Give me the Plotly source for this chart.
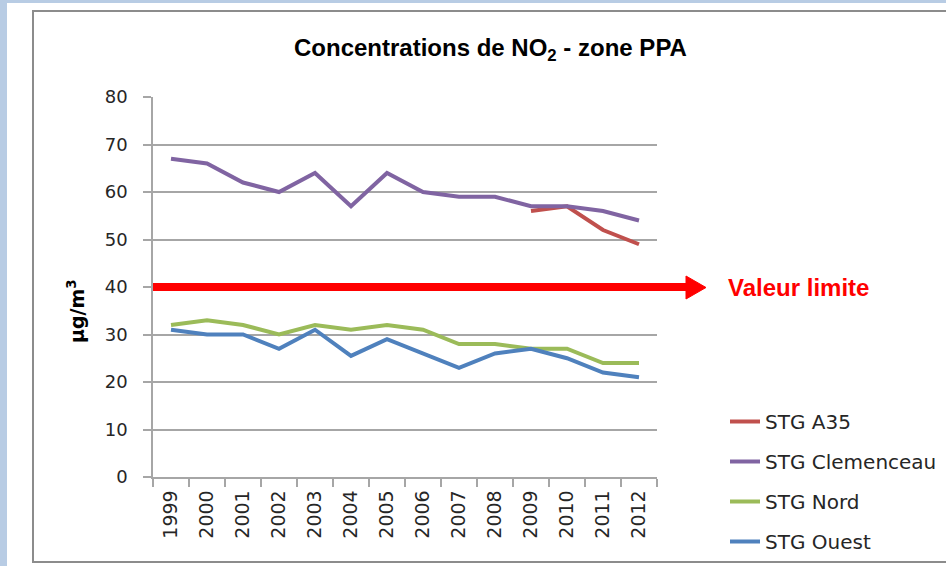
import plotly.graph_objects as go

years = ["1999", "2000", "2001", "2002", "2003", "2004", "2005",
         "2006", "2007", "2008", "2009", "2010", "2011", "2012"]
stg_a35 = [None, None, None, None, None, None, None,
           None, None, None, 56, 57, 52, 49]
stg_clemenceau = [67, 66, 62, 60, 64, 57, 64, 60, 59, 59, 57, 57, 56, 54]
stg_nord = [32, 33, 32, 30, 32, 31, 32, 31, 28, 28, 27, 27, 24, 24]
stg_ouest = [31, 30, 30, 27, 31, 25.5, 29, 26, 23, 26, 27, 25, 22, 21]
valeur_limite = 40
y_ticks = [0, 10, 20, 30, 40, 50, 60, 70, 80]

W, H = 946, 566
L, R, T, B = 153, 657, 97, 477


def px_x(px):
    return (px - L) / (R - L)


def px_y(py):
    return (B - py) / (B - T)


fig = go.Figure()
series = [
    ("STG A35", stg_a35, "#c0504d"),
    ("STG Clemenceau", stg_clemenceau, "#8064a2"),
    ("STG Nord", stg_nord, "#9bbb59"),
    ("STG Ouest", stg_ouest, "#4f81bd"),
]
for name, vals, col in series:
    fig.add_trace(go.Scatter(
        x=years, y=vals, name=name, mode="lines",
        line=dict(color=col, width=4), legendgroup=name,
    ))

grid = "#a6a6a6"
txt = "#262626"
fig.update_layout(
    width=W, height=H,
    margin=dict(l=L, r=W - R, t=T, b=H - B, autoexpand=False),
    paper_bgcolor="white", plot_bgcolor="white",
    showlegend=True,
    legend=dict(
        x=px_x(725), y=px_y(402), xanchor="left", yanchor="top",
        font=dict(family="DejaVu Sans", size=20, color=txt),
        traceorder="grouped", tracegroupgap=11,
        bgcolor="rgba(0,0,0,0)",
    ),
    xaxis=dict(
        type="category", range=[-0.5, len(years) - 0.5],
        showgrid=False, showline=True, linecolor=grid,
        linewidth=1.5, ticks="outside", tickson="boundaries", ticklen=8,
        tickcolor=grid, tickwidth=1.5, tickangle=-90,
        tickfont=dict(family="DejaVu Sans", size=19, color=txt),
        ticklabelstandoff=4,
    ),
    yaxis=dict(
        range=[0, 80], tickvals=y_ticks, showgrid=True, gridcolor=grid,
        gridwidth=1.5, showline=True, linecolor=grid, linewidth=1.5,
        ticks="outside", ticklen=8, tickcolor=grid, tickwidth=1.5,
        zeroline=False,
        tickfont=dict(family="DejaVu Sans", size=18, color=txt),
        ticklabelstandoff=12,
    ),
)

# background bands and chart frame
fig.add_shape(type="rect", xref="paper", yref="paper",
              x0=px_x(0), x1=px_x(7), y0=px_y(0), y1=px_y(H),
              fillcolor="#b8cce4", line=dict(width=0), layer="below")
fig.add_shape(type="rect", xref="paper", yref="paper",
              x0=px_x(0), x1=px_x(W), y0=px_y(0), y1=px_y(3),
              fillcolor="#b8cce4", line=dict(width=0), layer="below")
fig.add_shape(type="rect", xref="paper", yref="paper",
              x0=px_x(33), x1=px_x(W + 10), y0=px_y(11), y1=px_y(562),
              line=dict(color="#8c8c8c", width=2), layer="below")

# title
fig.add_annotation(
    text="<b>Concentrations de NO<sub>2</sub> - zone PPA</b>",
    xref="paper", yref="paper", x=px_x(490), y=px_y(50),
    showarrow=False, xanchor="center", yanchor="middle",
    font=dict(family="Liberation Sans", size=24, color="#000000"),
)
# axis title
fig.add_annotation(
    text="<b>µg/m<sup>3</sup></b>", xref="paper", yref="paper",
    x=px_x(62), y=px_y(311), textangle=-90, showarrow=False,
    font=dict(family="DejaVu Sans", size=19, color="#000000"),
)
# limit arrow: shaft + head
fig.add_shape(type="line", xref="paper", yref="y",
              x0=0, x1=px_x(690), y0=valeur_limite, y1=valeur_limite,
              line=dict(color="#ff0000", width=8))
hx0, hx1 = px_x(686), px_x(706)
hy_up, hy_dn = px_y(276), px_y(299)
hy_mid = px_y(287.5)
fig.add_shape(type="path", xref="paper", yref="paper",
              path=f"M {hx0} {hy_up} L {hx1} {hy_mid} L {hx0} {hy_dn} Z",
              fillcolor="#ff0000", line=dict(color="#ff0000", width=1))
fig.add_annotation(
    text="<b>Valeur limite</b>", xref="paper", yref="y",
    x=px_x(726), y=valeur_limite, xanchor="left", yanchor="middle",
    showarrow=False,
    font=dict(family="Liberation Sans", size=24, color="#ff0000"),
)

fig.write_html("out.html", config={"displayModeBar": False},
               post_script="document.body.style.margin='0px';")
